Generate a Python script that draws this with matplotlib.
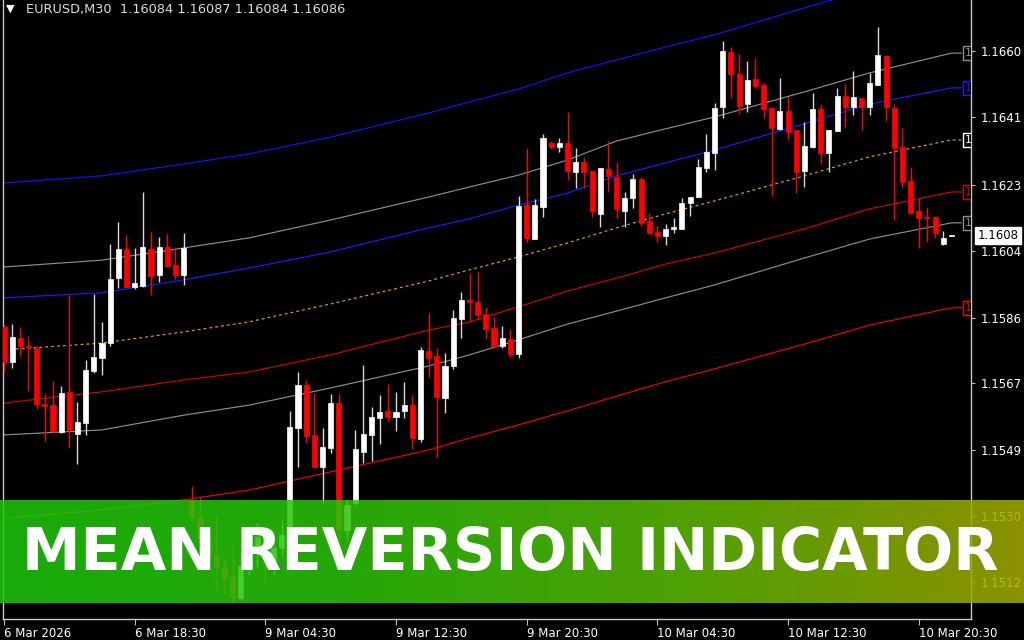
import numpy as np
import matplotlib
matplotlib.use("Agg")
import matplotlib.pyplot as plt
from matplotlib.colors import LinearSegmentedColormap
import matplotlib.transforms as mtransforms

# EURUSD M30 bars
opens = [1.15831, 1.15733, 1.15800, 1.15778, 1.15772, 1.15616, 1.15613, 1.15538, 1.15650, 1.15532,
         1.15563, 1.15708, 1.15744, 1.15786, 1.15967, 1.16048, 1.15942, 1.15945, 1.16048, 1.15976,
         1.16054, 1.16003, 1.15976, 1.15349, 1.15301, 1.15243, 1.15195, 1.15162, 1.15137, 1.15076,
         1.15165, 1.15209, 1.15246, 1.15167, 1.15215, 1.15251, 1.15549, 1.15669, 1.15530, 1.15441,
         1.15494, 1.15619, 1.15265, 1.15340, 1.15482, 1.15530, 1.15577, 1.15597, 1.15580, 1.15597,
         1.15613, 1.15519, 1.15764, 1.15750, 1.15633, 1.15722, 1.15853, 1.15906, 1.15900, 1.15867,
         1.15828, 1.15778, 1.15797, 1.15756, 1.16171, 1.16076, 1.16165, 1.16344, 1.16332, 1.16344,
         1.16263, 1.16291, 1.16266, 1.16146, 1.16271, 1.16249, 1.16154, 1.16190, 1.16243, 1.16126,
         1.16096, 1.16084, 1.16104, 1.16104, 1.16176, 1.16193, 1.16274, 1.16316, 1.16444, 1.16597,
         1.16536, 1.16452, 1.16522, 1.16505, 1.16441, 1.16383, 1.16433, 1.16380, 1.16266, 1.16332,
         1.16438, 1.16316, 1.16377, 1.16475, 1.16444, 1.16469, 1.16444, 1.16505, 1.16586, 1.16441,
         1.16332, 1.16238, 1.16154, 1.16137, 1.16137, 1.16062, 1.16084]
highs = [1.15836, 1.15839, 1.15831, 1.15806, 1.15778, 1.15644, 1.15680, 1.15666, 1.15920, 1.15622,
         1.15739, 1.15923, 1.15845, 1.16062, 1.16123, 1.16087, 1.16051, 1.16207, 1.16096, 1.16082,
         1.16090, 1.16054, 1.16093, 1.15388, 1.15357, 1.15265, 1.15307, 1.15181, 1.15232, 1.15207,
         1.15237, 1.15285, 1.15265, 1.15223, 1.15293, 1.15597, 1.15705, 1.15683, 1.15647, 1.15549,
         1.15644, 1.15644, 1.15349, 1.15544, 1.15725, 1.15608, 1.15641, 1.15672, 1.15650, 1.15678,
         1.15641, 1.15775, 1.15870, 1.15772, 1.15758, 1.15878, 1.15928, 1.15981, 1.15984, 1.15887,
         1.15859, 1.15834, 1.15825, 1.16196, 1.16330, 1.16188, 1.16369, 1.16349, 1.16358, 1.16430,
         1.16330, 1.16305, 1.16266, 1.16274, 1.16349, 1.16291, 1.16207, 1.16257, 1.16249, 1.16149,
         1.16112, 1.16118, 1.16135, 1.16190, 1.16193, 1.16299, 1.16369, 1.16455, 1.16628, 1.16611,
         1.16592, 1.16572, 1.16581, 1.16511, 1.16441, 1.16525, 1.16472, 1.16380, 1.16402, 1.16483,
         1.16452, 1.16380, 1.16497, 1.16508, 1.16544, 1.16469, 1.16539, 1.16667, 1.16589, 1.16452,
         1.16385, 1.16277, 1.16190, 1.16165, 1.16140, 1.16098, 1.16087]
lows = [1.15705, 1.15716, 1.15750, 1.15652, 1.15602, 1.15513, 1.15535, 1.15535, 1.15494, 1.15449,
        1.15530, 1.15703, 1.15697, 1.15778, 1.15939, 1.15942, 1.15937, 1.15942, 1.15920, 1.15956,
        1.15998, 1.15965, 1.15948, 1.15293, 1.15223, 1.15181, 1.15098, 1.15089, 1.15062, 1.15070,
        1.15140, 1.15162, 1.15117, 1.15140, 1.15190, 1.15237, 1.15441, 1.15507, 1.15441, 1.15340,
        1.15480, 1.15215, 1.15237, 1.15335, 1.15452, 1.15457, 1.15505, 1.15566, 1.15541, 1.15577,
        1.15491, 1.15510, 1.15691, 1.15468, 1.15591, 1.15714, 1.15800, 1.15845, 1.15850, 1.15797,
        1.15772, 1.15772, 1.15744, 1.15744, 1.16068, 1.16076, 1.16137, 1.16327, 1.16319, 1.16240,
        1.16218, 1.16218, 1.16137, 1.16110, 1.16207, 1.16135, 1.16110, 1.16162, 1.16112, 1.16090,
        1.16068, 1.16059, 1.16093, 1.16104, 1.16140, 1.16193, 1.16263, 1.16268, 1.16413, 1.16469,
        1.16424, 1.16430, 1.16497, 1.16413, 1.16196, 1.16380, 1.16352, 1.16204, 1.16221, 1.16330,
        1.16285, 1.16263, 1.16377, 1.16388, 1.16422, 1.16380, 1.16422, 1.16505, 1.16405, 1.16129,
        1.16218, 1.16146, 1.16051, 1.16068, 1.16079, 1.16059, 1.16084]
closes = [1.15733, 1.15803, 1.15778, 1.15775, 1.15616, 1.15611, 1.15541, 1.15647, 1.15544, 1.15566,
          1.15711, 1.15747, 1.15786, 1.15965, 1.16048, 1.15942, 1.15953, 1.16054, 1.15973, 1.16054,
          1.16001, 1.15976, 1.16051, 1.15301, 1.15243, 1.15195, 1.15162, 1.15131, 1.15078, 1.15165,
          1.15209, 1.15246, 1.15167, 1.15215, 1.15251, 1.15552, 1.15669, 1.15527, 1.15441, 1.15496,
          1.15619, 1.15265, 1.15335, 1.15491, 1.15532, 1.15580, 1.15594, 1.15580, 1.15594, 1.15613,
          1.15521, 1.15767, 1.15744, 1.15636, 1.15722, 1.15856, 1.15906, 1.15900, 1.15864, 1.15825,
          1.15778, 1.15800, 1.15756, 1.16168, 1.16079, 1.16171, 1.16358, 1.16332, 1.16344, 1.16266,
          1.16291, 1.16263, 1.16154, 1.16274, 1.16252, 1.16160, 1.16190, 1.16243, 1.16121, 1.16093,
          1.16084, 1.16104, 1.16110, 1.16176, 1.16193, 1.16277, 1.16319, 1.16441, 1.16600, 1.16536,
          1.16447, 1.16519, 1.16502, 1.16438, 1.16385, 1.16433, 1.16374, 1.16263, 1.16335, 1.16438,
          1.16316, 1.16380, 1.16475, 1.16444, 1.16472, 1.16444, 1.16511, 1.16589, 1.16444, 1.16330,
          1.16235, 1.16149, 1.16135, 1.16135, 1.16093, 1.16079, 1.16086]

# mean reversion bands, sampled at these bar numbers
band_bars = [0, 12, 22, 30, 40, 52, 57, 63, 69, 75, 81, 87, 98, 106, 116]
band_mid = [1.15767, 1.15786, 1.15817, 1.15845, 1.15895, 1.15959, 1.15990, 1.16026, 1.16065, 1.16107,
            1.16146, 1.16182, 1.16252, 1.16305, 1.16352]
band_up1 = [1.15912, 1.15926, 1.15962, 1.15995, 1.16040, 1.16107, 1.16132, 1.16171, 1.16204, 1.16252,
            1.16288, 1.16324, 1.16397, 1.16452, 1.16497]
band_up2 = [1.15998, 1.16017, 1.16051, 1.16079, 1.16129, 1.16193, 1.16221, 1.16254, 1.16296, 1.16349,
            1.16383, 1.16416, 1.16486, 1.16539, 1.16594]
band_up3 = [1.16232, 1.16252, 1.16285, 1.16313, 1.16360, 1.16427, 1.16458, 1.16494, 1.16539, 1.16575,
            1.16611, 1.16645, 1.16720, 1.16773, 1.16820]
band_dn1 = [1.15619, 1.15650, 1.15683, 1.15705, 1.15753, 1.15822, 1.15845, 1.15887, 1.15931, 1.15967,
            1.16006, 1.16037, 1.16104, 1.16160, 1.16207]
band_dn2 = [1.15530, 1.15544, 1.15585, 1.15613, 1.15661, 1.15722, 1.15753, 1.15795, 1.15839, 1.15875,
            1.15912, 1.15948, 1.16023, 1.16076, 1.16121]
band_dn3 = [1.15298, 1.15321, 1.15349, 1.15376, 1.15427, 1.15488, 1.15521, 1.15558, 1.15597, 1.15638,
            1.15678, 1.15714, 1.15783, 1.15836, 1.15884]

price_ticks = [1.16600, 1.16416, 1.16227, 1.16043, 1.15856, 1.15675, 1.15488, 1.15304, 1.15120]
price_labels = ["1.1660", "1.1641", "1.1623", "1.1604", "1.1586", "1.1567", "1.1549", "1.1530", "1.1512"]
time_ticks = [0, 16, 32, 48, 64, 80, 96, 112]
time_labels = ["6 Mar 2026", "6 Mar 18:30", "9 Mar 04:30", "9 Mar 12:30", "9 Mar 20:30",
               "10 Mar 04:30", "10 Mar 12:30", "10 Mar 20:30"]

fig = plt.figure(figsize=(10.24, 6.4), dpi=100, facecolor="black")
ax = fig.add_axes([3 / 1024, 21 / 640, 968 / 1024, 619 / 640], facecolor="black")

x = np.arange(len(opens))
o = np.array(opens); h = np.array(highs); l = np.array(lows); c = np.array(closes)
up = c >= o

# bands
bx = list(band_bars) + [117.2]
bands = [
    (band_up3, "#1010ff", "-"),
    (band_up2, "#8c8c8c", "-"),
    (band_up1, "#1a1aff", "-"),
    (band_mid, "#e89a10", (0, (2.5, 2.5))),
    (band_dn1, "#d00000", "-"),
    (band_dn2, "#8c8c8c", "-"),
    (band_dn3, "#ee0000", "-"),
]
for vals, col, ls in bands:
    ax.plot(bx, list(vals) + [vals[-1]], color=col, lw=0.85, ls=ls, zorder=2)

# candles
ax.vlines(x[up], l[up], h[up], color="#d8d8d8", lw=1.0, zorder=3)
ax.vlines(x[~up], l[~up], h[~up], color="#ff0000", lw=1.0, zorder=3)
body = np.maximum(np.abs(c - o), 0.000012)
ax.bar(x[up], body[up], bottom=np.minimum(o, c)[up], width=0.62, color="white",
       edgecolor="white", lw=0.5, zorder=4)
ax.bar(x[~up], body[~up], bottom=np.minimum(o, c)[~up], width=0.62, color="#ff0000",
       edgecolor="#ff0000", lw=0.5, zorder=4)

# little price tags where the bands end
tag_cols = ["#8c8c8c", "#1a1aff", "white", "#d00000", "#8c8c8c", "#ee0000"]
for (vals, col, ls), tcol in zip(bands[1:], tag_cols):
    ax.text(117.6, vals[-1], "1", color=tcol, fontsize=8, va="center", ha="left",
            bbox=dict(boxstyle="square,pad=0.15", fc="black", ec=tcol, lw=1), zorder=6, clip_on=True)

ax.set_xlim(-0.12, 118.4)
ax.set_ylim(1.15017, 1.16742)

ax.yaxis.tick_right()
ax.set_yticks(price_ticks, price_labels)
ax.set_xticks(time_ticks, time_labels)
for lab in ax.get_xticklabels():
    lab.set_horizontalalignment("left")
ax.tick_params(axis="y", colors="#c0c0c0", labelcolor="white", length=3, pad=4, labelsize=8.5)
ax.tick_params(axis="x", colors="#c0c0c0", labelcolor="white", length=4, pad=2, labelsize=8.5)
for s in ["left", "bottom", "right"]:
    ax.spines[s].set_color("#c8c8c8")
    ax.spines[s].set_linewidth(1)
ax.spines["top"].set_visible(False)

# current price box
trans = mtransforms.blended_transform_factory(ax.transAxes, ax.transData)
ax.text(1.007, closes[-1], "1.1608", transform=trans, color="black", fontsize=8.5,
        va="center", ha="left", clip_on=False, zorder=7,
        bbox=dict(boxstyle="square,pad=0.2", fc="white", ec="white"))

# header
fig.text(6 / 1024, 1 - 9 / 640, "\u25BC", color="white", fontsize=8, va="center")
fig.text(26 / 1024, 1 - 9 / 640, "EURUSD,M30  1.16084 1.16087 1.16084 1.16086",
         color="#dcdcdc", fontsize=9.3, va="center")

# banner
bax = fig.add_axes([0, 37 / 640, 1, 103 / 640], zorder=5)
bax.axis("off")
cmap = LinearSegmentedColormap.from_list("ban", ["#1cc80a", "#2cc40a", "#5cbc06", "#a4aa00"])
bax.imshow(np.linspace(0, 1, 256)[None, :], cmap=cmap, aspect="auto", alpha=0.86,
           extent=(0, 1, 0, 1))
bax.set_xlim(0, 1); bax.set_ylim(0, 1)

title = "MEAN REVERSION INDICATOR"
t = fig.text(22 / 1024, 70 / 640, title, color="white", fontsize=42, fontweight="bold",
             family="DejaVu Sans", va="baseline", ha="left", zorder=10)
fig.canvas.draw()
w = t.get_window_extent().width
t.set_fontsize(42 * 978 / w)

fig.savefig("out.png", dpi=100, facecolor="black")
